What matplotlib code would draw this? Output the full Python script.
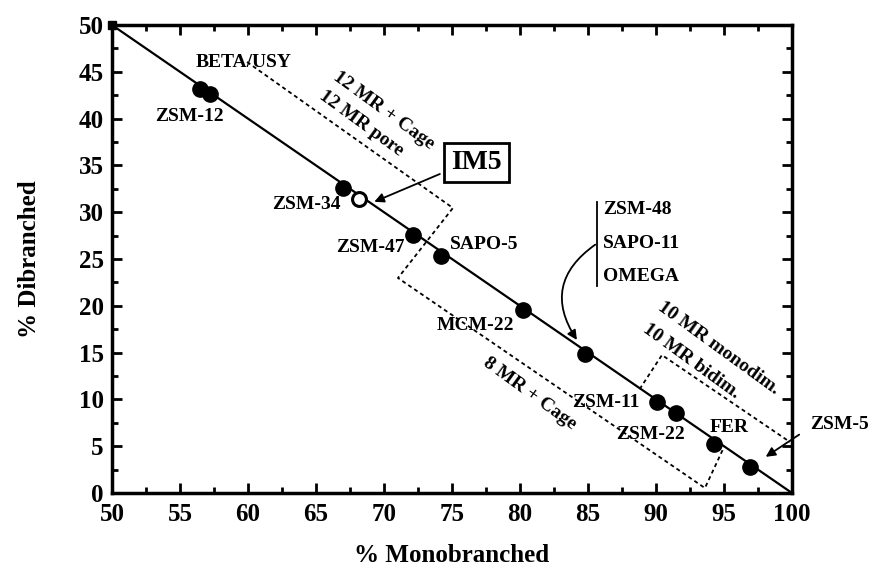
import matplotlib
matplotlib.use("Agg")
import matplotlib.pyplot as plt
from matplotlib.ticker import MultipleLocator

plt.rcParams['font.family'] = ['Liberation Serif', 'DejaVu Serif']
plt.rcParams['font.weight'] = 'bold'

# zeolite data: % monobranched vs % dibranched
names = ['ZSM-12a', 'ZSM-12', 'ZSM-34', 'ZSM-47', 'SAPO-5', 'MCM-22',
         'ZSM-48/SAPO-11/OMEGA', 'ZSM-11', 'ZSM-22', 'FER', 'ZSM-5']
mono = [56.5, 57.2, 67.0, 72.1, 74.2, 80.2, 84.8, 90.05, 91.5, 94.3, 96.9]
di = [43.2, 42.6, 32.6, 27.6, 25.3, 19.55, 14.9, 9.75, 8.5, 5.2, 2.8]

im5_mono = [68.2]
im5_di = [31.4]

# theoretical line mono + di = 100
line_x = [50, 100]
line_y = [50, 0]

# label text and where it goes
labels = [('BETA/USY', 59.7, 46.0), ('ZSM-12', 55.7, 40.2), ('ZSM-34', 64.3, 30.8),
          ('ZSM-47', 69.0, 26.2), ('SAPO-5', 77.4, 26.5), ('MCM-22', 76.7, 17.9),
          ('ZSM-11', 86.3, 9.7), ('ZSM-22', 89.6, 6.2), ('FER', 95.4, 7.05)]
bracket_names = ['ZSM-48', 'SAPO-11', 'OMEGA']

# dashed region boundaries
b12_x = [59.93, 75.07, 71.03, 93.6, 95.0]
b12_y = [46.05, 30.45, 22.97, 0.53, 4.9]
b10_x = [88.8, 90.44, 99.85]
b10_y = [11.1, 14.74, 5.45]

fig = plt.figure(figsize=(8.7, 5.66), dpi=100)
ax = fig.add_axes([0.1287, 0.129, 0.7816, 0.8268])

ax.plot(line_x, line_y, color='black', lw=1.6, zorder=2)
ax.plot([50], [50], 's', color='black', ms=6, clip_on=False, zorder=3)
ax.plot(mono, di, 'o', color='black', ms=11, zorder=4)
ax.plot(im5_mono, im5_di, 'o', mfc='white', mec='black', mew=2.2, ms=10, zorder=4)

ax.plot(b12_x, b12_y, color='black', lw=1.3, ls=(0, (2.2, 1.8)), zorder=1)
ax.plot(b10_x, b10_y, color='black', lw=1.3, ls=(0, (2.2, 1.8)), zorder=1)

for txt, lx, ly in labels:
    ax.text(lx, ly, txt, fontsize=14, ha='center', va='center', zorder=5)

# rotated region names
rot = -36
ax.text(70.0, 40.9, '12 MR + Cage', fontsize=14, rotation=rot, rotation_mode='anchor',
        ha='center', va='center')
ax.text(68.3, 39.5, '12 MR pore', fontsize=14, rotation=rot, rotation_mode='anchor',
        ha='center', va='center')
ax.text(94.6, 15.5, '10 MR monodim.', fontsize=14, rotation=rot, rotation_mode='anchor',
        ha='center', va='center')
ax.text(92.6, 14.1, '10 MR bidim.', fontsize=14, rotation=rot, rotation_mode='anchor',
        ha='center', va='center')
ax.text(80.7, 10.6, '8 MR + Cage', fontsize=14, rotation=rot, rotation_mode='anchor',
        ha='center', va='center')

# IM5 box + arrow
ax.text(76.8, 35.3, 'IM5', fontsize=20, ha='center', va='center',
        bbox=dict(boxstyle='square,pad=0.25', fc='white', ec='black', lw=2))
ax.annotate('', xy=(69.1, 31.0), xytext=(74.3, 34.2),
            arrowprops=dict(arrowstyle='-|>', color='black', lw=1.3, mutation_scale=14))

# ZSM-48 / SAPO-11 / OMEGA bracket
ax.plot([85.7, 85.7], [22.1, 31.1], color='black', lw=1.3)
for nm, yy in zip(bracket_names, [30.3, 26.7, 23.1]):
    ax.text(86.1, yy, nm, fontsize=14, ha='left', va='center')
ax.annotate('', xy=(84.3, 16.1), xytext=(85.7, 26.7),
            arrowprops=dict(arrowstyle='-|>', color='black', lw=1.3, mutation_scale=14,
                            connectionstyle='arc3,rad=0.5'))

# ZSM-5 outside the frame
ax.text(101.3, 7.3, 'ZSM-5', fontsize=14, ha='left', va='center', clip_on=False)
ax.annotate('', xy=(97.9, 3.7), xytext=(100.7, 6.4),
            arrowprops=dict(arrowstyle='-|>', color='black', lw=1.3, mutation_scale=14),
            annotation_clip=False)

ax.set_xlim(50, 100)
ax.set_ylim(0, 50)
ax.xaxis.set_major_locator(MultipleLocator(5))
ax.xaxis.set_minor_locator(MultipleLocator(2.5))
ax.yaxis.set_major_locator(MultipleLocator(5))
ax.yaxis.set_minor_locator(MultipleLocator(2.5))
ax.tick_params(which='both', direction='in', top=True, right=True, width=2)
ax.tick_params(which='major', length=7)
ax.tick_params(which='minor', length=4)
ax.tick_params(axis='x', which='major', pad=7, labelsize=18)
ax.tick_params(axis='y', which='major', pad=6, labelsize=18)
for s in ax.spines.values():
    s.set_linewidth(2.5)

ax.set_xlabel('% Monobranched', fontsize=18, fontweight='bold', labelpad=13)
ax.set_ylabel('% Dibranched', fontsize=18, fontweight='bold', labelpad=27)

fig.savefig('out.png', dpi=100)
